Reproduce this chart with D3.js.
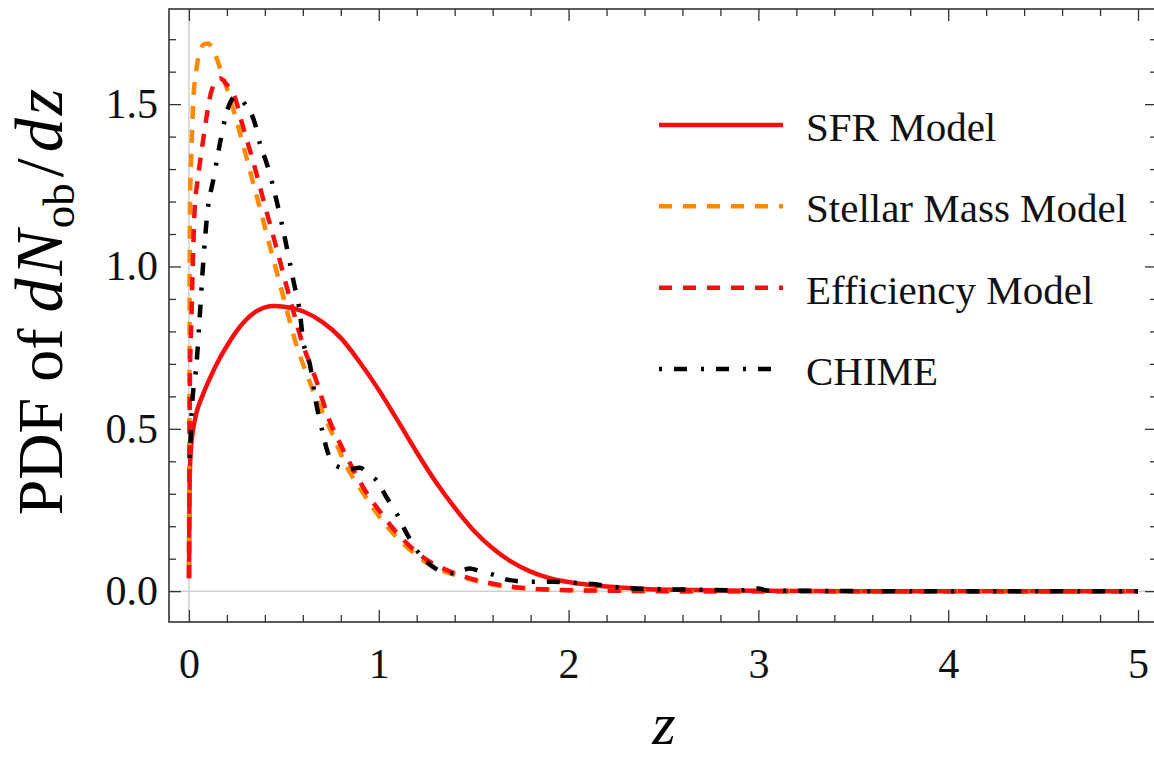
<!DOCTYPE html>
<html>
<head>
<meta charset="utf-8">
<script src="https://cdn.jsdelivr.net/npm/d3@7"></script>
</head>
<body style="margin:0; font-family:'Liberation Serif', 'DejaVu Serif', serif">
<script>
// ---- data ----
var sfrZ = [0.0005, 0.002, 0.004, 0.007, 0.012, 0.02, 0.04, 0.07, 0.11, 0.16, 0.2, 0.25, 0.3, 0.35, 0.4, 0.45, 0.5, 0.6, 0.7, 0.8, 0.9, 1.0, 1.1, 1.2, 1.3, 1.4, 1.5, 1.6, 1.7, 1.8, 1.9, 2.0, 2.2, 2.4, 2.6, 2.8, 3.0, 3.5, 4.0, 4.5, 5.0];
var sfrY = [0.04, 0.22, 0.34, 0.40, 0.45, 0.49, 0.55, 0.60, 0.655, 0.715, 0.755, 0.80, 0.835, 0.86, 0.874, 0.878, 0.876, 0.862, 0.83, 0.78, 0.705, 0.62, 0.525, 0.428, 0.337, 0.257, 0.187, 0.132, 0.09, 0.06, 0.04, 0.028, 0.014, 0.007, 0.004, 0.002, 0.001, 0, 0, 0, 0];

var massZ = [0.0005, 0.002, 0.004, 0.006, 0.012, 0.022, 0.04, 0.06, 0.08, 0.1, 0.125, 0.15, 0.17, 0.21, 0.26, 0.31, 0.36, 0.43, 0.5, 0.57, 0.62, 0.67, 0.725, 0.78, 0.83, 0.92, 0.99, 1.075, 1.18, 1.27, 1.41, 1.53, 1.67, 1.8, 2.0, 2.3, 2.6, 3.0, 4.0, 5.0];
var massY = [0.05, 0.5, 1.0, 1.22, 1.34, 1.50, 1.61, 1.665, 1.685, 1.687, 1.67, 1.635, 1.60, 1.53, 1.43, 1.32, 1.21, 1.055, 0.90, 0.75, 0.67, 0.595, 0.525, 0.45, 0.385, 0.30, 0.24, 0.178, 0.12, 0.08, 0.049, 0.029, 0.014, 0.007, 0.003, 0.001, 0, 0, 0, 0];

var effZ = [0.0005, 0.003, 0.005, 0.014, 0.023, 0.032, 0.04, 0.067, 0.09, 0.11, 0.135, 0.163, 0.2, 0.242, 0.285, 0.34, 0.39, 0.46, 0.53, 0.6, 0.67, 0.74, 0.8, 0.87, 0.95, 1.0, 1.08, 1.18, 1.27, 1.4, 1.53, 1.67, 1.8, 2.0, 2.3, 2.6, 3.0, 4.0, 5.0];
var effY = [0.04, 0.45, 0.65, 0.855, 1.06, 1.20, 1.24, 1.357, 1.45, 1.52, 1.565, 1.58, 1.56, 1.52, 1.43, 1.32, 1.21, 1.06, 0.905, 0.76, 0.65, 0.526, 0.45, 0.37, 0.29, 0.25, 0.19, 0.13, 0.09, 0.055, 0.032, 0.016, 0.008, 0.003, 0.001, 0, 0, 0, 0];

var chimeZ = [0.005, 0.014, 0.04, 0.058, 0.075, 0.1, 0.128, 0.163, 0.207, 0.25, 0.295, 0.348, 0.374, 0.41, 0.453, 0.515, 0.55, 0.585, 0.6, 0.64, 0.67, 0.7, 0.73, 0.78, 0.84, 0.9, 0.95, 0.99, 1.04, 1.094, 1.147, 1.2, 1.286, 1.375, 1.43, 1.48, 1.53, 1.586, 1.69, 1.8, 1.92, 2.02, 2.13, 2.24, 2.35, 2.5, 2.7, 2.9, 3.0, 3.05, 3.3, 3.6, 4.0, 5.0];
var chimeY = [0.41, 0.547, 0.70, 0.855, 1.01, 1.18, 1.265, 1.378, 1.49, 1.525, 1.50, 1.44, 1.378, 1.317, 1.224, 1.06, 0.957, 0.855, 0.78, 0.69, 0.58, 0.50, 0.43, 0.385, 0.375, 0.38, 0.36, 0.34, 0.29, 0.24, 0.178, 0.126, 0.075, 0.054, 0.062, 0.07, 0.062, 0.054, 0.034, 0.029, 0.029, 0.026, 0.022, 0.013, 0.008, 0.006, 0.004, 0.003, 0.008, 0.002, 0.001, 0, 0, 0];

var seriesNames = ['SFR Model', 'Stellar Mass Model', 'Efficiency Model', 'CHIME'];
var xMajor = [0, 1, 2, 3, 4, 5];
var yMajor = [0, 0.5, 1.0, 1.5];

// ---- layout ----
var width = 1154, height = 759;
var frame = { left: 169, right: 1157, top: 9, bottom: 622 };
var FONT = "'Liberation Serif', Tinos, 'Times New Roman', FreeSerif, 'DejaVu Serif'";

var x = d3.scaleLinear().domain([-0.105, 5.1]).range([frame.left, frame.right]);
var y = d3.scaleLinear().domain([-0.095, 1.793]).range([frame.bottom, frame.top]);

var series = [
  { name: seriesNames[0], z: sfrZ, v: sfrY, color: '#f50f0f', dash: null, width: 4.5 },
  { name: seriesNames[1], z: massZ, v: massY, color: '#ff8a00', dash: '13,11', width: 4.5 },
  { name: seriesNames[2], z: effZ, v: effY, color: '#f50f0f', dash: '13,11', width: 4.5 },
  { name: seriesNames[3], z: chimeZ, v: chimeY, color: '#000', dash: '3,12,13,14', width: 4.5 }
];

var svg = d3.select('body').append('svg')
  .attr('width', width)
  .attr('height', height)
  .attr('font-family', 'Liberation Serif')
  .style('font-family', FONT);

svg.append('defs').append('clipPath').attr('id', 'plotClip')
  .append('rect')
  .attr('x', frame.left).attr('y', frame.top)
  .attr('width', frame.right - frame.left)
  .attr('height', frame.bottom - frame.top);

// light axes through the origin
svg.append('line')
  .attr('x1', frame.left).attr('x2', frame.right)
  .attr('y1', y(0)).attr('y2', y(0))
  .style('stroke', '#cfcfcf').style('stroke-width', 1.5);
svg.append('line')
  .attr('x1', x(0)).attr('x2', x(0))
  .attr('y1', frame.top).attr('y2', frame.bottom)
  .style('stroke', '#cfcfcf').style('stroke-width', 1.5);

// curves
var line = d3.line()
  .x(function(d) { return x(d[0]); })
  .y(function(d) { return y(d[1]); })
  .curve(d3.curveMonotoneX);

var curves = svg.append('g').attr('clip-path', 'url(#plotClip)');
series.forEach(function(s) {
  var pts = s.z.map(function(z, i) { return [z, s.v[i]]; });
  curves.append('path')
    .datum(pts)
    .attr('d', line)
    .style('fill', 'none')
    .style('stroke', s.color)
    .style('stroke-width', s.width)
    .style('stroke-dasharray', s.dash)
    .style('stroke-linejoin', 'round');
});

// frame ticks
var xMinor = d3.range(0, 5.01, 0.2).filter(function(v) { return Math.abs(v - Math.round(v)) > 1e-6; });
var yMinor = d3.range(0, 1.75, 0.1).filter(function(v) { return Math.abs(v * 2 - Math.round(v * 2)) > 1e-6; });

function addAxis(axis, tx, ty) {
  var g = svg.append('g')
    .attr('transform', 'translate(' + tx + ',' + ty + ')')
    .call(axis);
  g.select('.domain').remove();
  g.attr('font-family', 'Liberation Serif').attr('font-size', 42);
  g.selectAll('.tick line').style('stroke', '#333').style('stroke-width', 1.3);
  g.selectAll('.tick text')
    .style('font-family', FONT)
    .style('font-size', '42px')
    .style('fill', '#111');
}

addAxis(d3.axisBottom(x).tickValues(xMajor).tickSize(-12).tickPadding(26).tickFormat(d3.format('d')), 0, frame.bottom);
addAxis(d3.axisBottom(x).tickValues(xMinor).tickSize(-7).tickFormat(''), 0, frame.bottom);
addAxis(d3.axisTop(x).tickValues(xMajor).tickSize(-12).tickFormat(''), 0, frame.top);
addAxis(d3.axisTop(x).tickValues(xMinor).tickSize(-7).tickFormat(''), 0, frame.top);

addAxis(d3.axisLeft(y).tickValues(yMajor).tickSize(-12).tickPadding(11).tickFormat(d3.format('.1f')), frame.left, 0);
addAxis(d3.axisLeft(y).tickValues(yMinor).tickSize(-7).tickFormat(''), frame.left, 0);
addAxis(d3.axisRight(y).tickValues(yMajor).tickSize(-12).tickFormat(''), frame.right, 0);
addAxis(d3.axisRight(y).tickValues(yMinor).tickSize(-7).tickFormat(''), frame.right, 0);

// frame
svg.append('rect')
  .attr('x', frame.left).attr('y', frame.top)
  .attr('width', frame.right - frame.left)
  .attr('height', frame.bottom - frame.top)
  .style('fill', 'none')
  .style('stroke', '#333')
  .style('stroke-width', 1.6);

// axis labels
svg.append('text')
  .attr('x', 664).attr('y', 744)
  .attr('text-anchor', 'middle')
  .style('font-family', FONT)
  .style('font-style', 'italic')
  .style('font-size', '60px')
  .text('z');

var ylab = svg.append('text')
  .attr('transform', 'translate(62,302) rotate(-90)')
  .attr('text-anchor', 'middle')
  .style('font-family', FONT)
  .style('font-size', '64px');
ylab.append('tspan').text('PDF of ');
ylab.append('tspan').style('font-style', 'italic').style('font-size', '68px').text('d');
ylab.append('tspan').attr('dx', 3).style('font-style', 'italic').style('font-size', '68px').text('N');
ylab.append('tspan').attr('dy', 12).attr('dx', 2).style('font-size', '45px').text('ob');
ylab.append('tspan').attr('dy', -12).attr('dx', 6).style('font-size', '68px').text('/');
ylab.append('tspan').attr('dx', 6).style('font-style', 'italic').style('font-size', '68px').text('d');
ylab.append('tspan').attr('dx', 3).style('font-style', 'italic').style('font-size', '68px').text('z');

// legend
var legend = svg.append('g');
var legendY = d3.scalePoint().domain(seriesNames).range([125, 369]);
series.forEach(function(s) {
  var ly = legendY(s.name);
  legend.append('line')
    .attr('x1', 659).attr('x2', 783)
    .attr('y1', ly).attr('y2', ly)
    .style('stroke', s.color)
    .style('stroke-width', s.width)
    .style('stroke-dasharray', s.dash);
  legend.append('text')
    .attr('x', 806).attr('y', ly + 16)
    .style('font-family', FONT)
    .style('font-size', '41px')
    .style('fill', '#111')
    .text(s.name);
});

// re-apply once fonts are resolved
if (document.fonts && document.fonts.load) {
  document.fonts.load("42px 'Liberation Serif'").then(function() {
    svg.selectAll('text').style('font-family', FONT);
  });
}
</script>
</body>
</html>
